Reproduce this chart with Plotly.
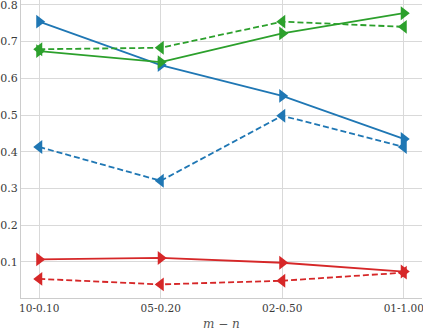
import plotly.graph_objects as go

# x categories (m-n settings)
categories = ["10-0.10", "05-0.20", "02-0.50", "01-1.00"]

# series values
blue_solid = [0.754, 0.636, 0.552, 0.435]
blue_dashed = [0.413, 0.321, 0.498, 0.413]
green_solid = [0.674, 0.644, 0.722, 0.777]
green_dashed = [0.679, 0.683, 0.754, 0.740]
red_solid = [0.107, 0.111, 0.098, 0.074]
red_dashed = [0.054, 0.039, 0.049, 0.071]

y_ticks = [0.1, 0.2, 0.3, 0.4, 0.5, 0.6, 0.7, 0.8]

BLUE = "#1f77b4"
GREEN = "#2ca02c"
RED = "#d62728"

series = [
    (blue_solid, BLUE, "solid", "triangle-right"),
    (blue_dashed, BLUE, "6px,3px", "triangle-left"),
    (green_solid, GREEN, "solid", "triangle-right"),
    (green_dashed, GREEN, "6px,3px", "triangle-left"),
    (red_solid, RED, "solid", "triangle-right"),
    (red_dashed, RED, "6px,3px", "triangle-left"),
]

fig = go.Figure()
for vals, col, dash, sym in series:
    fig.add_trace(go.Scatter(
        x=categories, y=vals, mode="lines+markers",
        line=dict(color=col, width=1.8, dash=dash),
        marker=dict(symbol=sym, size=12, color=col),
        showlegend=False, cliponaxis=False,
    ))

font = dict(family="DejaVu Serif", size=11, color="#3a3a3a")
xfont = dict(family="DejaVu Serif", size=10.5, color="#3a3a3a")
fig.update_layout(
    width=423, height=330,
    margin=dict(l=21, r=1, t=0, b=32),
    plot_bgcolor="white", paper_bgcolor="white",
    font=font,
)
# axis title placed by hand so it stays inside the small bottom margin
fig.add_annotation(
    text="<i>m</i> − <i>n</i>", xref="paper", yref="paper",
    x=0.5, y=0, yshift=-17, yanchor="top", showarrow=False,
    font=dict(family="DejaVu Serif", size=12, color="#555555"),
)
fig.update_xaxes(
    type="category", range=[-0.15, 3.15], automargin=False,
    showgrid=True, gridcolor="#d9d9d9", gridwidth=1.2,
    showline=True, linecolor="#cccccc", linewidth=1.2,
    ticks="", tickfont=xfont, ticklabeloverflow="allow",
)
fig.update_yaxes(
    range=[0.002, 0.813], tickvals=y_ticks, automargin=False,
    tickformat=".1f",
    showgrid=True, gridcolor="#d9d9d9", gridwidth=1.2,
    showline=True, linecolor="#cccccc", linewidth=1.2,
    zeroline=False, ticks="", tickfont=font, ticklabeloverflow="allow",
)

# drop the default page margin so the figure sits at the window's corner
fig.write_html("out.html", config={"displayModeBar": False},
               post_script="document.body.style.margin='0';")
